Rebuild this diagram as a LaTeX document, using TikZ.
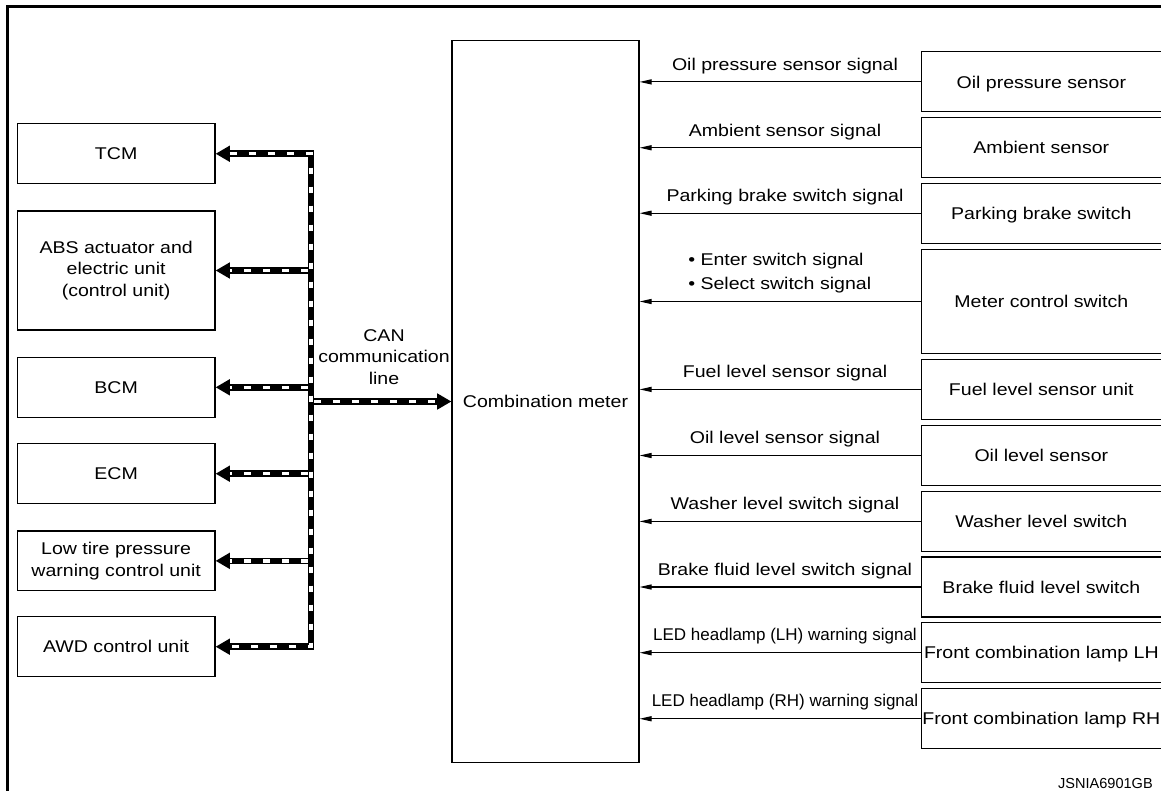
\documentclass[tikz,border=0pt]{standalone}
\usepackage{fontspec}
\setmainfont{Liberation Sans}[FakeStretch=1.15]
\newfontfamily\plainsans{Liberation Sans}
\usetikzlibrary{arrows.meta}
\newcommand\msize{\fontsize{12.75pt}{16.3pt}\selectfont}
\begin{document}
\begin{tikzpicture}[x=0.75pt,y=-0.75pt,
  every node/.style={font=\msize, inner sep=0pt},
  boxline/.style={line width=0.85pt},
  lbox/.style={draw, boxline, minimum width=148.3pt, minimum height=44.8pt, align=center},
  one/.style={text height=9.3pt, text depth=0pt},
  rbox/.style={minimum width=179.5pt, minimum height=44.6pt, text height=9.3pt, text depth=0pt},
  sig/.style={line width=0.8pt, -{Triangle[length=9pt,width=3.8pt]}},
  busblack/.style={line width=4.9pt, black},
  buswhite/.style={line width=2.5pt, white, dash pattern=on 5pt off 9.25pt},
  busarrow/.style={-{Triangle[length=10.7pt,width=11.5pt]}},
  busarrows/.style={{Triangle[length=10.7pt,width=11.5pt]}-{Triangle[length=10.7pt,width=11.5pt]}},
  sigtext/.style={anchor=base},
  ledtext/.style={anchor=base, font=\plainsans\msize}]
\useasboundingbox (0,0) rectangle (1161,790);
\clip (0,0) rectangle (1161,790);

% outer frame (cropped)
\draw[line width=2pt] (7.3,800) -- (7.3,6.3) -- (1170,6.3);

% left units
\node[lbox, one] (tcm) at (116.15,153.75) {TCM};
\node[lbox, minimum height=89.25pt] (abs) at (116.15,270.5) {ABS actuator and\\electric unit\\(control unit)};
\node[lbox, one] (bcm) at (116.15,387.3) {BCM};
\node[lbox, one] (ecm) at (116.15,473.7) {ECM};
\node[lbox] (low) at (116.15,560.85) {Low tire pressure\\warning control unit};
\node[lbox, one] (awd) at (116.15,646.7) {AWD control unit};

% combination meter
\node[draw, boxline, minimum width=140.25pt, minimum height=541.2pt, one] (meter) at (545.5,401.5) {Combination meter};

% CAN label
\node[align=center] (canlbl) at (384,357) {CAN\\communication\\line};

% CAN bus
\coordinate (bus) at (311,0);
\draw[busblack, busarrows] (tcm.east) -| (bus |- awd.east) -- (awd.east);
\foreach \n in {abs,bcm,ecm,low}
  \draw[busblack, busarrow] (bus |- \n.east) -- (\n.east);
\draw[busblack, busarrow] (bus |- meter.west) -- (meter.west);
\draw[buswhite, shorten <=10.7pt, shorten >=10.7pt] (tcm.east) -| (bus |- awd.east) -- (awd.east);
\foreach \n in {abs,bcm,ecm,low}
  \draw[buswhite, shorten <=2.5pt, shorten >=10.7pt] (bus |- \n.east) -- (\n.east);
\draw[buswhite, shorten <=2.5pt, shorten >=10.7pt] (bus |- meter.west) -- (meter.west);

% right units
\node[rbox] (oilp) at (1041.35,81.9) {Oil pressure sensor};
\node[rbox] (amb) at (1041.35,147.75) {Ambient sensor};
\node[rbox] (park) at (1041.35,213.2) {Parking brake switch};
\node[rbox, minimum height=78pt] (mcs) at (1041.35,301.5) {Meter control switch};
\node[rbox] (fuel) at (1041.35,389.4) {Fuel level sensor unit};
\node[rbox] (oill) at (1041.35,455.5) {Oil level sensor};
\node[rbox] (wash) at (1041.35,521.4) {Washer level switch};
\node[rbox] (brake) at (1041.35,587) {Brake fluid level switch};
\node[rbox] (flh) at (1041.35,652.7) {Front combination lamp LH};
\node[rbox] (frh) at (1041.35,718.75) {Front combination lamp RH};

\foreach \n in {oilp,amb,park,mcs,fuel,oill,wash,brake,flh,frh}{
  \draw[boxline] ([xshift=20pt]\n.north east) -- (\n.north west) -- (\n.south west) -- ([xshift=20pt]\n.south east);
  \draw[sig] (\n.west) -- (\n.west -| meter.east);
}

% signal labels
\node[sigtext] (l-oilp) at (785,70) {Oil pressure sensor signal};
\node[sigtext] (l-amb) at (785,136) {Ambient sensor signal};
\node[sigtext] (l-park) at (785,201.5) {Parking brake switch signal};
\node[anchor=north west, align=left] (l-mcs) at (688,252.6) {\textbullet\ Enter switch signal\\[1.7pt]\textbullet\ Select switch signal};
\node[sigtext] (l-fuel) at (785,377.6) {Fuel level sensor signal};
\node[sigtext] (l-oill) at (785,443.7) {Oil level sensor signal};
\node[sigtext] (l-wash) at (785,509.5) {Washer level switch signal};
\node[sigtext] (l-brake) at (785,575.2) {Brake fluid level switch signal};
\node[ledtext] (l-flh) at (785,640) {LED headlamp (LH) warning signal};
\node[ledtext] (l-frh) at (785,706) {LED headlamp (RH) warning signal};

% figure code
\node[anchor=base east, font=\plainsans\fontsize{10.9pt}{13pt}\selectfont] (code) at (1153,788) {JSNIA6901GB};
\end{tikzpicture}
\end{document}
